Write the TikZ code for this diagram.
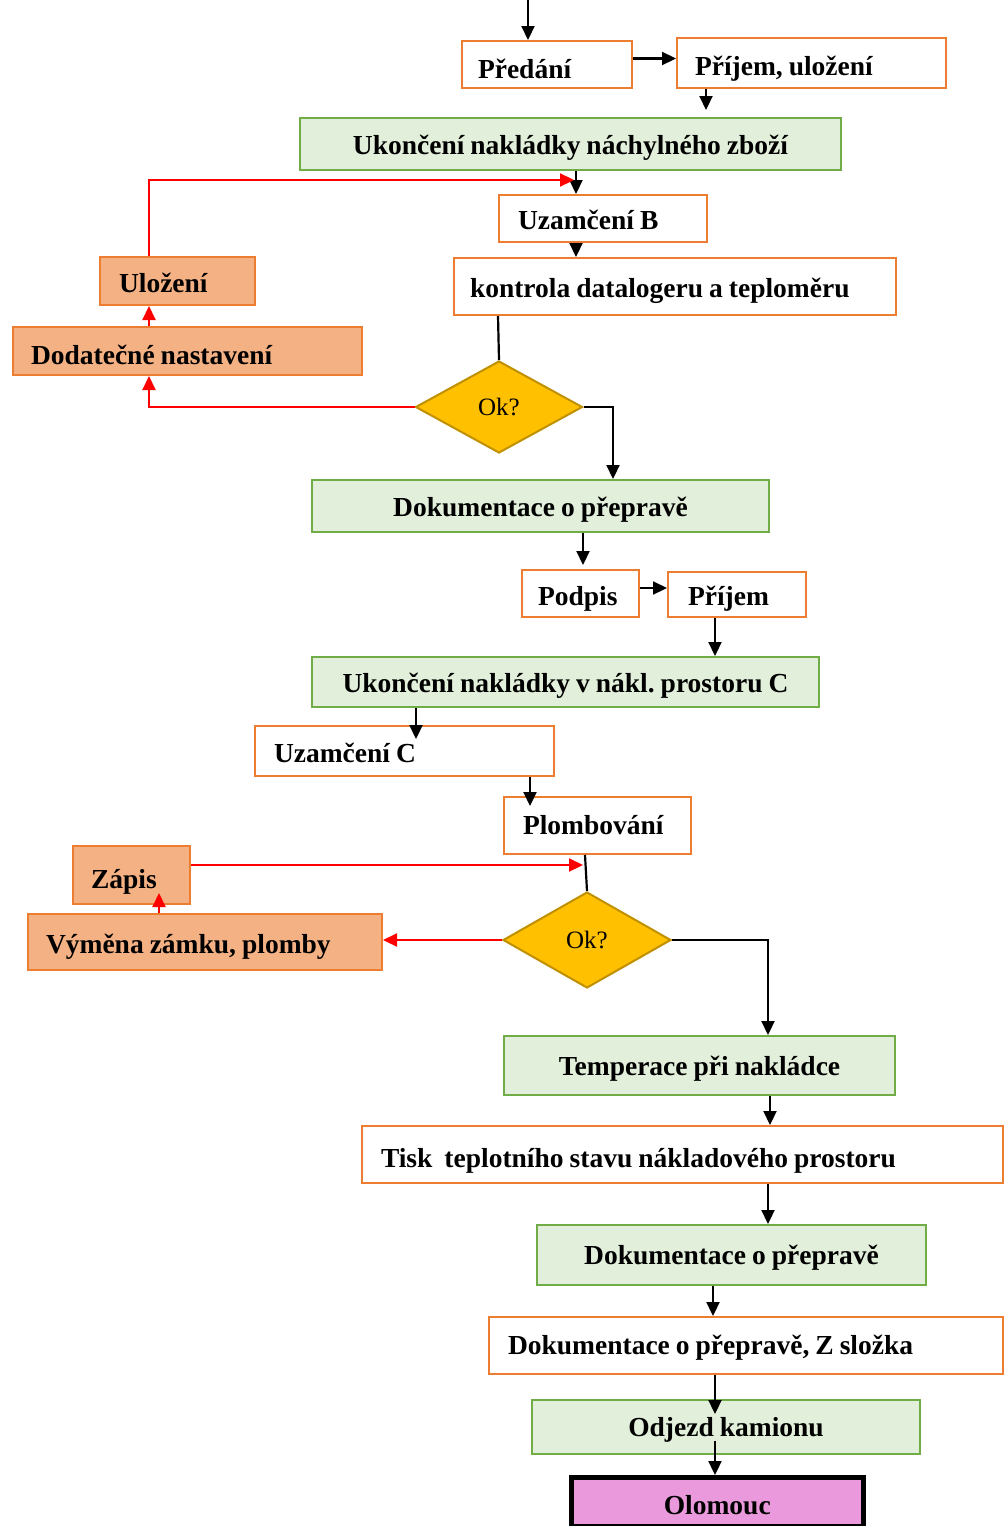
\documentclass[tikz,border=0pt]{standalone}
\usepackage{fontspec}
\setmainfont{Liberation Serif}
\usetikzlibrary{arrows.meta,shapes.geometric}
\definecolor{ob}{HTML}{ED7D31}
\definecolor{of}{HTML}{F4B183}
\definecolor{gb}{HTML}{70AD47}
\definecolor{gf}{HTML}{E2EFDA}
\definecolor{yf}{HTML}{FFC000}
\definecolor{yb}{HTML}{BF9000}
\definecolor{pf}{HTML}{EA9ADC}
\frenchspacing
\newcommand\tightwords{\spaceskip=6pt\relax}
\begin{document}
\begin{tikzpicture}[x=1pt,y=-1pt,
  every node/.style={font=\fontsize{27.5}{30}\selectfont\bfseries,
    execute at begin node=\tightwords, inner ysep=0pt, anchor=north west},
  obox/.style={draw=ob, line width=2pt, fill=white, align=left},
  ofill/.style={draw=ob, line width=2pt, fill=of, align=left},
  gbox/.style={draw=gb, line width=2pt, fill=gf, align=center, inner xsep=10pt},
  endbox/.style={draw=black, line width=4.5pt, fill=pf, align=center, inner xsep=10pt},
  dec/.style={diamond, draw=yb, line width=2pt, fill=yf, inner sep=0pt, anchor=center,
    font=\fontsize{25}{27}\selectfont},
  arr/.style={line width=2.2pt, -{Triangle[length=14pt,width=13pt]}},
  rarr/.style={arr, red},
  link/.style={line width=2.2pt}]
\path[use as bounding box] (0,0) rectangle (1006,1526);

% boxes: top-left corner, width, baseline from top, depth below baseline
\node[obox, minimum width=170pt, inner xsep=16pt, text width=138pt, text height=37pt, text depth=10pt] (predani) at (461,40) {Předání};
\node[obox, minimum width=269pt, inner xsep=18pt, text width=233pt, text height=37pt, text depth=13pt] (prijem1) at (676,37) {Příjem, uložení};
\node[gbox, minimum width=541pt, text width=521pt, text height=36pt, text depth=16pt] (green1) at (299,117) {Ukončení nakládky náchylného zboží};
\node[obox, minimum width=208pt, inner xsep=19pt, text width=170pt, text height=34pt, text depth=13pt] (uzB) at (498,194) {Uzamčení B};
\node[obox, minimum width=442pt, inner xsep=16pt, text width=410pt, text height=39pt, text depth=18pt] (kontrola) at (453,257) {kontrola datalogeru a teploměru};
\node[ofill, minimum width=155pt, inner xsep=19pt, text width=117pt, text height=35pt, text depth=13pt] (ulozeni) at (99,256) {Uložení};
\node[ofill, minimum width=349pt, inner xsep=18pt, text width=313pt, text height=37pt, text depth=11pt] (dod) at (12,326) {Dodatečné nastavení};
\node[dec, minimum width=167pt, minimum height=92pt] (d1) at (499,407) {Ok?};
\node[gbox, minimum width=457pt, text width=437pt, text height=36pt, text depth=16pt] (dok1) at (311,479) {Dokumentace o přepravě};
\node[obox, minimum width=117pt, inner xsep=16pt, text width=85pt, text height=35pt, text depth=12pt] (podpis) at (521,569) {Podpis};
\node[obox, minimum width=138pt, inner xsep=20pt, text width=98pt, text height=33pt, text depth=12pt] (prijem2) at (667,571) {Příjem};
\node[gbox, minimum width=507pt, text width=487pt, text height=35pt, text depth=15pt] (green2) at (311,656) {Ukončení nakládky v nákl. prostoru C};
\node[obox, minimum width=299pt, inner xsep=19pt, text width=261pt, text height=36pt, text depth=14pt] (uzC) at (254,725) {Uzamčení C};
\node[obox, minimum width=187pt, inner xsep=19pt, text width=149pt, text height=37pt, text depth=20pt] (plomb) at (503,796) {Plombování};
\node[ofill, minimum width=117pt, inner xsep=18pt, text width=81pt, text height=42pt, text depth=16pt] (zapis) at (72,845) {Zápis};
\node[ofill, minimum width=354pt, inner xsep=18pt, text width=318pt, text height=39pt, text depth=17pt] (vymena) at (27,913) {Výměna zámku, plomby};
\node[dec, minimum width=168pt, minimum height=96pt] (d2) at (587,940) {Ok?};
\node[gbox, minimum width=391pt, text width=371pt, text height=39pt, text depth=20pt] (temp) at (503,1035) {Temperace při nakládce};
\node[obox, minimum width=641pt, inner xsep=19pt, text width=603pt, text height=41pt, text depth=16pt] (tisk) at (361,1125) {Tisk\ \ teplotního stavu nákladového prostoru};
\node[gbox, minimum width=389pt, text width=369pt, text height=39pt, text depth=21pt] (dok2) at (536,1224) {Dokumentace o přepravě};
\node[obox, minimum width=514pt, inner xsep=19pt, text width=476pt, text height=37pt, text depth=20pt] (dokZ) at (488,1316) {Dokumentace o přepravě, Z složka};
\node[gbox, minimum width=388pt, text width=368pt, text height=36pt, text depth=18pt] (odjezd) at (531,1399) {Odjezd kamionu};
\node[endbox, minimum width=292pt, text width=272pt, text height=37pt, text depth=12pt] (olomouc) at (569,1475) {Olomouc};

% free ends of connectors
\coordinate (in0) at (528,0);
\coordinate (ret1) at (574,180);
\coordinate (uzCin) at (416,739);
\coordinate (plin) at (530,806);
\coordinate (zout) at (583,865);
\coordinate (zin) at (159,893);
\coordinate (odin) at (715,1414);
\coordinate (odout) at (715,1441);

% main flow
\draw[arr] (in0) -- (in0 |- predani.north);
\draw[arr] ([yshift=6pt]predani.east) -- ([yshift=6pt]predani.east -| prijem1.west);
\draw[arr, shorten >=7pt] (706,0 |- prijem1.south) -- (706,0 |- green1.north);
\draw[arr] (576,0 |- green1.south) -- (576,0 |- uzB.north);
\draw[arr] (576,0 |- uzB.south) -- (576,0 |- kontrola.north);
\draw[link] (498,0 |- kontrola.south) -- (d1.north);
\draw[arr] (d1.east) -| (613,0 |- dok1.north);
\draw[arr, shorten >=4pt] (583,0 |- dok1.south) -- (583,0 |- podpis.north);
\draw[arr] (podpis.east |- 0,588) -- (prijem2.west |- 0,588);
\draw[arr] (715,0 |- prijem2.south) -- (715,0 |- green2.north);
\draw[arr] (uzCin |- green2.south) -- (uzCin);
\draw[arr] (plin |- uzC.south) -- (plin);
\draw[link] (585,0 |- plomb.south) -- (d2.north);
\draw[arr] (d2.east) -| (768,0 |- temp.north);
\draw[arr] (770,0 |- temp.south) -- (770,0 |- tisk.north);
\draw[arr] (768,0 |- tisk.south) -- (768,0 |- dok2.north);
\draw[arr] (713,0 |- dok2.south) -- (713,0 |- dokZ.north);
\draw[arr] (odin |- dokZ.south) -- (odin);
\draw[arr] (odout) -- (odout |- olomouc.north);

% correction loops
\draw[rarr] (149,0 |- ulozeni.north) |- (ret1);
\draw[rarr] (d1.west) -| (149,0 |- dod.south);
\draw[rarr] (149,0 |- dod.north) -- (149,0 |- ulozeni.south);
\draw[rarr] (zapis.east |- zout) -- (zout);
\draw[rarr] (zin |- vymena.north) -- (zin);
\draw[rarr] (d2.west) -- (vymena.east |- d2.west);
\end{tikzpicture}
\end{document}
